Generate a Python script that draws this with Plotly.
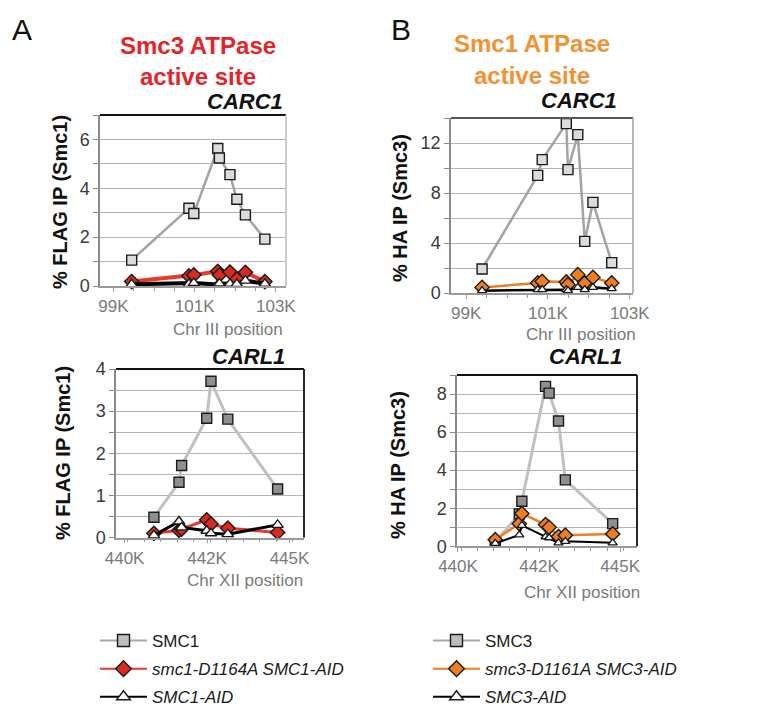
import plotly.graph_objects as go

FONT = "Arial, 'Liberation Sans', sans-serif"
W, H = 767, 708

# ---------------- data ----------------
# Panel A, CARC1 (Chr III position, kb) - % FLAG IP (Smc1)
a_top_pos = [99.45, 100.86, 100.98, 101.57, 101.61, 101.87, 102.04, 102.25, 102.73]
a_top_smc1 = [1.06, 3.18, 2.97, 5.63, 5.24, 4.56, 3.55, 2.91, 1.92]
a_top_d1164a = [0.18, 0.41, 0.45, 0.60, 0.45, 0.57, 0.29, 0.56, 0.18]
a_top_aid = [0.07, 0.08, 0.12, 0.06, 0.10, 0.09, 0.08, 0.22, 0.09]

# Panel B, CARC1 (Chr III position, kb) - % HA IP (Smc3)
b_top_pos = [99.39, 100.75, 100.86, 101.45, 101.49, 101.73, 101.90, 102.10, 102.56]
b_top_smc3 = [1.92, 9.41, 10.67, 13.55, 9.87, 12.67, 4.13, 7.25, 2.43]
b_top_d1161a = [0.45, 0.80, 0.93, 0.88, 0.67, 1.47, 0.80, 1.25, 0.80]
b_top_aid = [0.19, 0.27, 0.27, 0.27, 0.19, 0.45, 0.27, 0.45, 0.35]

# Panel A, CARL1 (Chr XII position, kb) - % FLAG IP (Smc1)
a_bot_pos = [440.79, 441.55, 441.63, 442.39, 442.52, 443.03, 444.54]
a_bot_smc1 = [0.48, 1.31, 1.71, 2.83, 3.71, 2.81, 1.15]
a_bot_d1164a = [0.10, 0.17, 0.20, 0.42, 0.32, 0.22, 0.12]
a_bot_aid = [0.05, 0.38, 0.24, 0.16, 0.10, 0.08, 0.30]

# Panel B, CARL1 (Chr XII position, kb) - % HA IP (Smc3)
b_bot_pos = [441.05, 441.79, 441.87, 442.60, 442.71, 443.00, 443.21, 444.67]
b_bot_smc3 = [0.21, 1.70, 2.37, 8.40, 8.05, 6.58, 3.49, 1.19]
b_bot_d1161a = [0.35, 1.19, 1.72, 1.14, 1.00, 0.51, 0.58, 0.65]
b_bot_aid = [0.15, 0.60, 1.10, 0.50, 0.45, 0.18, 0.26, 0.18]

# tick labels
chr3_tickvals = [99, 101, 103]
chr3_ticktext = ["99K", "101K", "103K"]
chr12_tickvals = [439.9, 442.4, 444.9]
chr12_ticktext = ["440K", "442K", "445K"]

# series names
name_smc1 = "SMC1"
name_d1164a = "<i>smc1-D1164A SMC1-AID</i>"
name_smc1aid = "<i>SMC1-AID</i>"
name_smc3 = "SMC3"
name_d1161a = "<i>smc3-D1161A SMC3-AID</i>"
name_smc3aid = "<i>SMC3-AID</i>"

RED_LINE = "#e8382b"
RED_FILL = "#d92a1f"
ORANGE = "#ef7d22"
GRAY_LINE_TOP = "#a3a3a3"
GRAY_LINE_BOT = "#c0c0c0"
SQ_LIGHT = "#dcdcdc"
SQ_DARK = "#8f8f8f"

fig = go.Figure()


def px_dom_x(a, b):
    return [a / W, b / W]


def px_dom_y(top, bottom):
    return [1 - bottom / H, 1 - top / H]


panels = {
    "A_top": dict(xa="x", ya="y", xd=px_dom_x(92, 278), yd=px_dom_y(107, 278)),
    "B_top": dict(xa="x2", ya="y2", xd=px_dom_x(443, 625), yd=px_dom_y(110, 285)),
    "A_bot": dict(xa="x3", ya="y3", xd=px_dom_x(108, 296), yd=px_dom_y(361, 529.5)),
    "B_bot": dict(xa="x4", ya="y4", xd=px_dom_x(449, 629), yd=px_dom_y(367, 538.3)),
}


def add_series(p, x, y, name, line_color, line_width, symbol, fill, msize):
    fig.add_trace(go.Scatter(
        x=x, y=y, mode="lines+markers", name=name,
        xaxis=p["xa"], yaxis=p["ya"],
        line=dict(color=line_color, width=line_width),
        marker=dict(symbol=symbol, size=msize, color=fill,
                    line=dict(color="#1a1a1a", width=1.4)),
        showlegend=False, cliponaxis=False,
    ))


p = panels["A_top"]
add_series(p, a_top_pos, a_top_smc1, name_smc1, GRAY_LINE_TOP, 2.5, "square", SQ_LIGHT, 10)
add_series(p, a_top_pos, a_top_d1164a, name_d1164a, RED_LINE, 4, "diamond", RED_FILL, 11)
add_series(p, a_top_pos, a_top_aid, name_smc1aid, "#000000", 4, "triangle-up", "#ffffff", 10)

p = panels["B_top"]
add_series(p, b_top_pos, b_top_smc3, name_smc3, GRAY_LINE_TOP, 2.5, "square", SQ_LIGHT, 10)
add_series(p, b_top_pos, b_top_d1161a, name_d1161a, ORANGE, 2.5, "diamond", ORANGE, 11)
add_series(p, b_top_pos, b_top_aid, name_smc3aid, "#000000", 2.5, "triangle-up", "#ffffff", 8)

p = panels["A_bot"]
add_series(p, a_bot_pos, a_bot_smc1, name_smc1, GRAY_LINE_BOT, 3, "square", SQ_DARK, 10)
add_series(p, a_bot_pos, a_bot_d1164a, name_d1164a, RED_LINE, 3, "diamond", RED_FILL, 11)
add_series(p, a_bot_pos, a_bot_aid, name_smc1aid, "#000000", 3, "triangle-up", "#ffffff", 10)

p = panels["B_bot"]
add_series(p, b_bot_pos, b_bot_smc3, name_smc3, GRAY_LINE_BOT, 3, "square", SQ_DARK, 10)
add_series(p, b_bot_pos, b_bot_d1161a, name_d1161a, ORANGE, 2.5, "diamond", ORANGE, 11)
add_series(p, b_bot_pos, b_bot_aid, name_smc3aid, "#000000", 2, "triangle-up", "#ffffff", 8)

# legend entries (legend-only traces)
leg_specs = [
    ("legend", name_smc1, "#a8a8a8", 2, "square", "#bdbdbd"),
    ("legend", name_d1164a, RED_LINE, 2, "diamond", RED_FILL),
    ("legend", name_smc1aid, "#000000", 2, "triangle-up", "#ffffff"),
    ("legend2", name_smc3, "#a8a8a8", 2, "square", "#bdbdbd"),
    ("legend2", name_d1161a, ORANGE, 2, "diamond", ORANGE),
    ("legend2", name_smc3aid, "#000000", 2, "triangle-up", "#ffffff"),
]
for i, (lg, nm, lc, lw, sym, fc) in enumerate(leg_specs):
    fig.add_trace(go.Scatter(
        x=[None], y=[None], mode="lines+markers", name=nm, xaxis="x", yaxis="y",
        line=dict(color=lc, width=lw),
        marker=dict(symbol=sym, size=12, color=fc, line=dict(color="#1a1a1a", width=1.4)),
        showlegend=True, legend=lg, legendgroup=f"g{i}",
    ))

TICKFONT_Y = dict(family=FONT, size=18, color="#3a3a3a")
TICKFONT_X = dict(family=FONT, size=17, color="#7a7a7a")
GRID = "#b4b4b4"


def xaxis_cfg(p, rng, tv, tt, anchor):
    return dict(domain=p["xd"], range=rng, anchor=anchor, tickvals=tv, ticktext=tt,
                tickfont=TICKFONT_X, showgrid=False, zeroline=False, automargin=False,
                showline=True, linecolor="#9a9a9a", linewidth=1.5,
                ticks="outside", ticklen=4, tickcolor="#9a9a9a",
                minor=dict(dtick=0.5, ticks="outside", ticklen=3, tickcolor="#9a9a9a"))


def yaxis_cfg(p, rng, dtick, minor, anchor):
    return dict(domain=p["yd"], range=rng, anchor=anchor, dtick=dtick, tick0=0,
                tickfont=TICKFONT_Y, showgrid=True, gridcolor=GRID, gridwidth=1,
                zeroline=False, showline=True, linecolor="#8a8a8a", linewidth=1.5,
                automargin=False,
                ticks="outside", ticklen=5, tickcolor="#8a8a8a",
                minor=dict(dtick=minor, showgrid=True, gridcolor=GRID, gridwidth=1,
                           ticks="outside", ticklen=5, tickcolor="#8a8a8a"))


LEG_FONT = dict(family=FONT, size=17, color="#1a1a1a")
fig.update_layout(
    template="none",
    width=W, height=H, margin=dict(l=0, r=0, t=0, b=0, autoexpand=False),
    paper_bgcolor="white", plot_bgcolor="white",
    font=dict(family=FONT, color="#222"),
    xaxis=xaxis_cfg(panels["A_top"], [98.67, 103.25], chr3_tickvals, chr3_ticktext, "y"),
    yaxis=yaxis_cfg(panels["A_top"], [0, 7], 2, 1, "x"),
    xaxis2=xaxis_cfg(panels["B_top"], [98.63, 103.08], chr3_tickvals, chr3_ticktext, "y2"),
    yaxis2=yaxis_cfg(panels["B_top"], [0, 14], 4, 2, "x2"),
    xaxis3=xaxis_cfg(panels["A_bot"], [439.64, 445.34], chr12_tickvals, chr12_ticktext, "y3"),
    yaxis3=yaxis_cfg(panels["A_bot"], [0, 4], 1, 0.5, "x3"),
    xaxis4=xaxis_cfg(panels["B_bot"], [439.87, 445.42], chr12_tickvals, chr12_ticktext, "y4"),
    yaxis4=yaxis_cfg(panels["B_bot"], [0, 9], 2, 1, "x4"),
    legend=dict(x=87 / W, y=1 - 615 / H, xanchor="left", yanchor="top",
                font=LEG_FONT, itemwidth=47,
                tracegroupgap=3, bgcolor="rgba(0,0,0,0)"),
    legend2=dict(x=420 / W, y=1 - 615 / H, xanchor="left", yanchor="top",
                 font=LEG_FONT, itemwidth=47,
                 tracegroupgap=3, bgcolor="rgba(0,0,0,0)"),
)

# top / right frame lines
frames = [("x", "y", "#111", "#c8c8c8"), ("x2", "y2", "#555", "#b0b0b0"),
          ("x3", "y3", "#111", "#111"), ("x4", "y4", "#111", "#111")]
for xa, ya, topc, rightc in frames:
    fig.add_shape(type="line", xref=f"{xa} domain", yref=f"{ya} domain",
                  x0=0, x1=1, y0=1, y1=1, line=dict(color=topc, width=1.8))
    fig.add_shape(type="line", xref=f"{xa} domain", yref=f"{ya} domain",
                  x0=1, x1=1, y0=0, y1=1, line=dict(color=rightc, width=1.8))


def ann(text, x, y, size, color="#111", angle=0, xanchor="center", bold=False, italic=False):
    t = text
    if italic:
        t = f"<i>{t}</i>"
    if bold:
        t = f"<b>{t}</b>"
    fig.add_annotation(text=t, x=x / W, y=1 - y / H, xref="paper", yref="paper",
                       showarrow=False, textangle=angle, xanchor=xanchor, yanchor="middle",
                       font=dict(family=FONT, size=size, color=color))


ann("A", 14, 21, 30, "#111")
ann("B", 393, 21, 30, "#111")
ann("Smc3 ATPase", 190, 37, 24, "#e3242b", bold=True)
ann("active site", 190, 68, 24, "#e3242b", bold=True)
ann("Smc1 ATPase", 524, 36, 24, "#f29130", bold=True)
ann("active site", 524, 67, 24, "#f29130", bold=True)
ann("CARC1", 277, 94, 22, "#111", xanchor="right", bold=True, italic=True)
ann("CARC1", 611, 92, 22, "#111", xanchor="right", bold=True, italic=True)
ann("CARL1", 279, 348, 22, "#111", xanchor="right", bold=True, italic=True)
ann("CARL1", 616, 348, 22, "#111", xanchor="right", bold=True, italic=True)
ann("% FLAG IP (Smc1)", 52, 194, 20, "#111", angle=-90, bold=True)
ann("% FLAG IP (Smc1)", 55, 445, 20, "#111", angle=-90, bold=True)
ann("% HA IP (Smc3)", 392, 200, 20, "#111", angle=-90, bold=True)
ann("% HA IP (Smc3)", 390, 457, 20, "#111", angle=-90, bold=True)
ann("Chr III position", 220, 321, 17, "#7a7a7a")
ann("Chr III position", 573, 326, 17, "#7a7a7a")
ann("Chr XII position", 237, 572, 17, "#7a7a7a")
ann("Chr XII position", 574, 584, 17, "#7a7a7a")

fig.write_html("out.html")
